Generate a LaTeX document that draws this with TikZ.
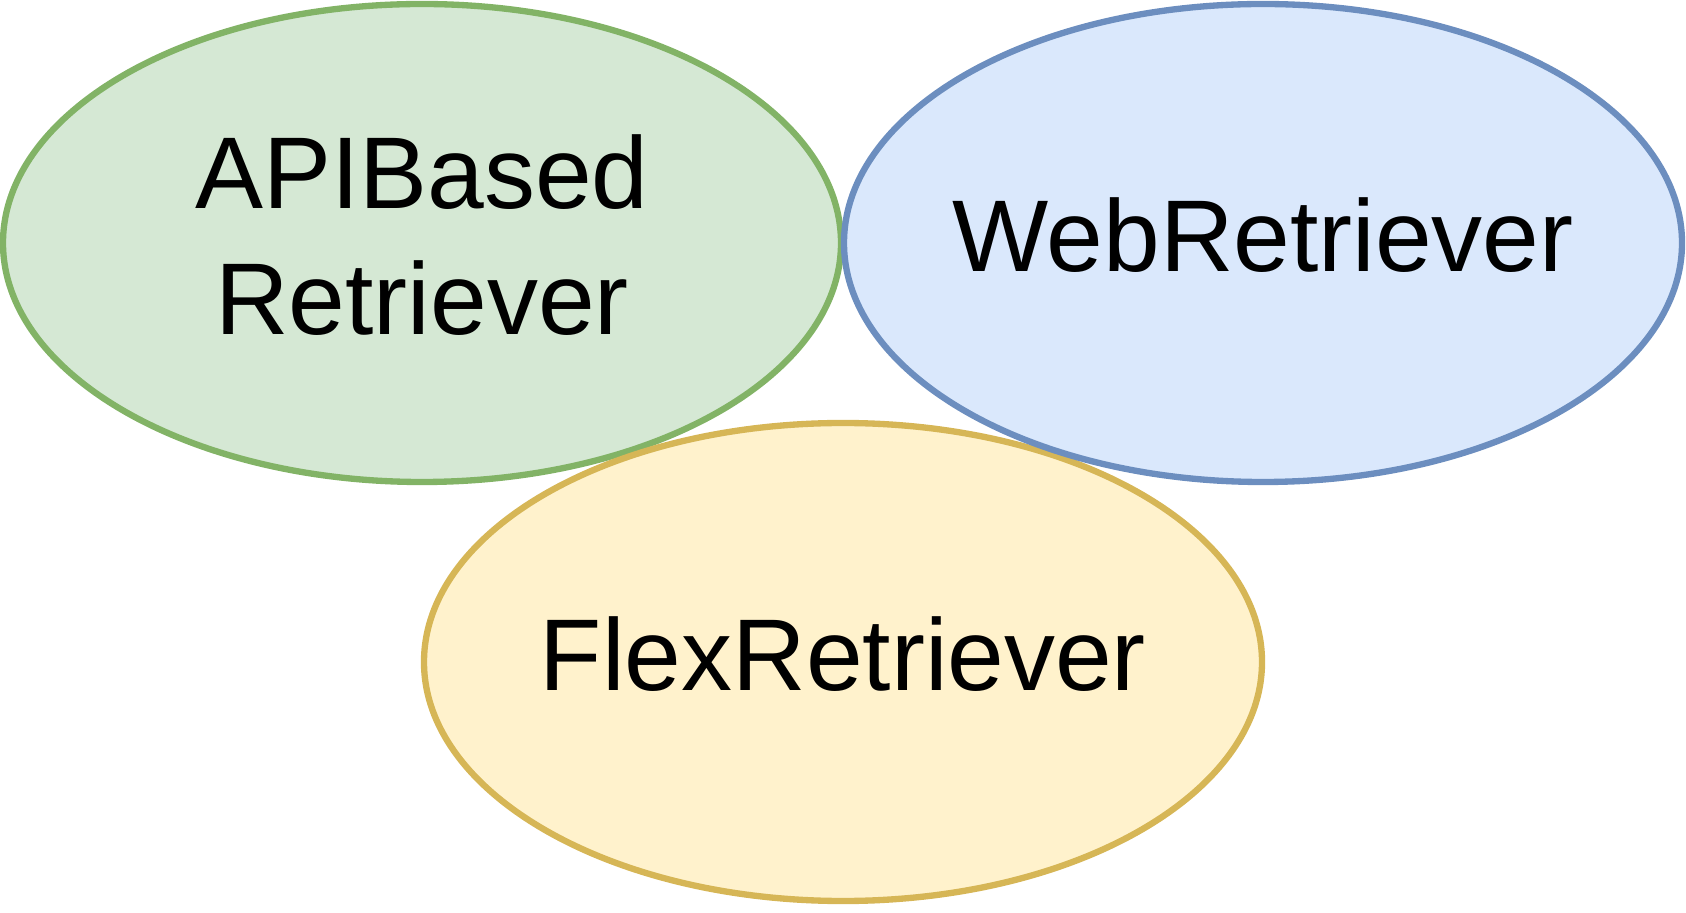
\documentclass[tikz,border=0pt]{standalone}
\usepackage{fontspec}
\setmainfont{Liberation Sans}
\usetikzlibrary{shapes.geometric}

\definecolor{greenfill}{HTML}{D5E8D4}
\definecolor{greenline}{HTML}{82B366}
\definecolor{bluefill}{HTML}{DAE8FC}
\definecolor{blueline}{HTML}{6C8EBF}
\definecolor{yellowfill}{HTML}{FFF2CC}
\definecolor{yellowline}{HTML}{D6B656}

\begin{document}
\begin{tikzpicture}[
    blob/.style={ellipse, line width=1.8pt, inner sep=0pt,
      minimum width=8.38cm, minimum height=4.78cm},
    blobtext/.style={align=center, yshift=0.08cm,
      font=\fontsize{29}{35.8}\selectfont}]
    \useasboundingbox (0, 0) rectangle (16.86, 9.12);
    % Green one top left, yellow below, blue top right (drawn last)
    \node[blob, draw=greenline, fill=greenfill] (api) at (4.22, 6.69) {};
    \node[blob, draw=yellowline, fill=yellowfill] (flex) at (8.43, 2.50) {};
    \node[blob, draw=blueline, fill=bluefill] (web) at (12.63, 6.69) {};
    % Texts
    \node[blobtext] (apitext) at (api) {APIBased\\Retriever};
    \node[blobtext] (flextext) at (flex) {FlexRetriever};
    \node[blobtext] (webtext) at (web) {WebRetriever};
  \end{tikzpicture}
\end{document}
